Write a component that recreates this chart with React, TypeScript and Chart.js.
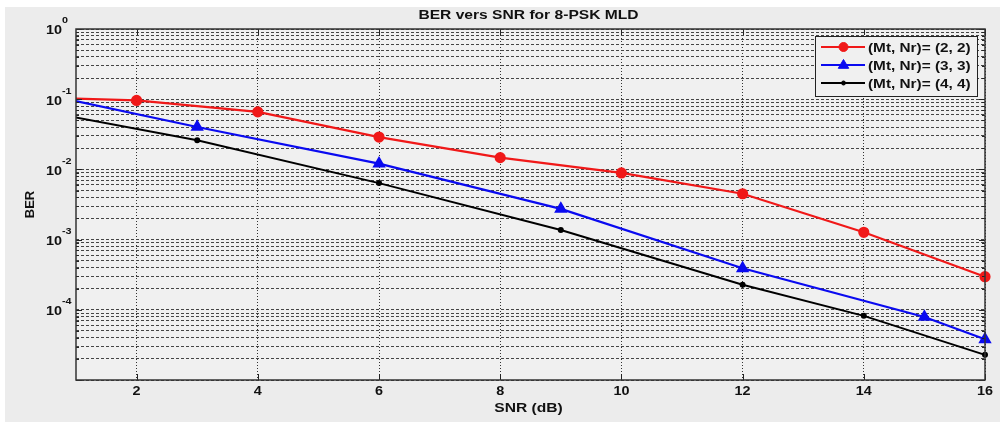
import React, { useEffect, useRef } from "react";
import { Chart, registerables } from "chart.js";

Chart.register(...registerables);

const chartTitle = "BER vers SNR for 8-PSK MLD";
const xAxisLabel = "SNR (dB)";
const yAxisLabel = "BER";
const snrTicks = [2, 4, 6, 8, 10, 12, 14, 16];
const yExponents = [0, -1, -2, -3, -4];

const seriesLabels = ["(Mt, Nr)= (2, 2)", "(Mt, Nr)= (3, 3)", "(Mt, Nr)= (4, 4)"];

const snr22 = [0, 2, 4, 6, 8, 10, 12, 14, 16];
const ber22 = [0.108, 0.096, 0.066, 0.0289, 0.0147, 0.0089, 0.0045, 0.00127, 0.000296];

const snr33 = [0, 3, 6, 9, 12, 15, 16];
const ber33 = [0.144, 0.0402, 0.0121, 0.00274, 0.00039, 0.000079, 0.000038];

const snr44 = [0, 3, 6, 9, 12, 14, 16];
const ber44 = [0.0796, 0.026, 0.00638, 0.00137, 0.000228, 0.000082, 0.0000228];

const FONT = "'Liberation Sans', Arial, sans-serif";
const STRETCH = 1.2;

function pts(xs: number[], ys: number[]) {
  return xs.map((x, i) => ({ x, y: ys[i] }));
}

function yGridValues() {
  const v: number[] = [];
  for (let k = -5; k < 0; k++) {
    for (let m = 1; m < 10; m++) v.push(m * Math.pow(10, k));
  }
  v.push(1);
  return v;
}

function text(ctx: CanvasRenderingContext2D, s: string, x: number, y: number, font: string, align: CanvasTextAlign, sx = STRETCH) {
  ctx.save();
  ctx.translate(x, y);
  ctx.scale(sx, 1);
  ctx.font = font;
  ctx.textAlign = align;
  ctx.textBaseline = "middle";
  ctx.fillText(s, 0, 0);
  ctx.restore();
}

function drawMarker(ctx: CanvasRenderingContext2D, style: string, x: number, y: number, r: number) {
  ctx.beginPath();
  if (style === "triangle") {
    ctx.moveTo(x, y - r);
    ctx.lineTo(x + r * 0.95, y + r * 0.6);
    ctx.lineTo(x - r * 0.95, y + r * 0.6);
    ctx.closePath();
  } else {
    ctx.arc(x, y, r, 0, Math.PI * 2);
  }
  ctx.fill();
  ctx.stroke();
}

const decor = {
  id: "decor",
  beforeDraw(chart: any) {
    const { ctx, chartArea: a } = chart;
    ctx.save();
    ctx.fillStyle = "#ffffff";
    ctx.fillRect(0, 0, chart.width, chart.height);
    ctx.fillStyle = "#ececec";
    ctx.fillRect(5, 7, chart.width - 5, chart.height - 7);
    ctx.fillStyle = "#f0f0f0";
    ctx.fillRect(a.left, a.top, a.right - a.left, a.bottom - a.top);
    ctx.restore();
  },
  afterDraw(chart: any) {
    const { ctx, chartArea: a } = chart;
    const xs = chart.scales.x;
    const ys = chart.scales.y;
    ctx.save();
    // tick marks
    ctx.strokeStyle = "#222";
    ctx.lineWidth = 1;
    ctx.beginPath();
    snrTicks.forEach((v) => {
      const px = Math.round(xs.getPixelForValue(v)) + 0.5;
      ctx.moveTo(px, a.bottom);
      ctx.lineTo(px, a.bottom - 6);
      ctx.moveTo(px, a.top);
      ctx.lineTo(px, a.top + 6);
    });
    yGridValues().forEach((v) => {
      const py = Math.round(ys.getPixelForValue(v)) + 0.5;
      const major = Math.abs(Math.log10(v) - Math.round(Math.log10(v))) < 1e-9;
      const len = major ? 6 : 3;
      ctx.moveTo(a.left, py);
      ctx.lineTo(a.left + len, py);
      ctx.moveTo(a.right, py);
      ctx.lineTo(a.right - len, py);
    });
    ctx.stroke();
    // box
    ctx.strokeStyle = "#333";
    ctx.lineWidth = 1.5;
    ctx.strokeRect(a.left, a.top, a.right - a.left, a.bottom - a.top);

    // tick labels
    ctx.fillStyle = "#111";
    snrTicks.forEach((v) => {
      text(ctx, String(v), xs.getPixelForValue(v), 392, `bold 12px ${FONT}`, "center");
    });
    yExponents.forEach((e) => {
      const py = ys.getPixelForValue(Math.pow(10, e));
      text(ctx, "10", 62, py + 2, `bold 12px ${FONT}`, "right");
      text(ctx, String(e), 62, py - 8, `bold 9px ${FONT}`, "left");
    });

    // title and axis labels
    const cx = (a.left + a.right) / 2;
    text(ctx, chartTitle, cx - 2, 15, `bold 13px ${FONT}`, "center");
    text(ctx, xAxisLabel, cx - 2, 408, `bold 13px ${FONT}`, "center");
    ctx.save();
    ctx.translate(30, (a.top + a.bottom) / 2);
    ctx.rotate(-Math.PI / 2);
    ctx.font = `bold 13px ${FONT}`;
    ctx.textAlign = "center";
    ctx.textBaseline = "middle";
    ctx.fillText(yAxisLabel, 0, 0);
    ctx.restore();

    // legend
    const lx = 815, ly = 36, lw = 162, lh = 60;
    ctx.fillStyle = "#f0f0f0";
    ctx.fillRect(lx, ly, lw, lh);
    ctx.strokeStyle = "#222";
    ctx.lineWidth = 1;
    ctx.strokeRect(lx + 0.5, ly + 0.5, lw, lh);
    chart.data.datasets.forEach((ds: any, i: number) => {
      const cy = 47 + i * 18;
      ctx.strokeStyle = ds.borderColor;
      ctx.lineWidth = ds.borderWidth;
      ctx.beginPath();
      ctx.moveTo(821, cy);
      ctx.lineTo(865, cy);
      ctx.stroke();
      ctx.fillStyle = ds.pointBackgroundColor;
      ctx.strokeStyle = ds.pointBorderColor;
      ctx.lineWidth = 1;
      drawMarker(ctx, ds.pointStyle, 843.5, cy, ds.pointRadius);
      ctx.fillStyle = "#111";
      text(ctx, ds.label, 868, cy + 1, `bold 13px ${FONT}`, "left", 1.18);
    });
    ctx.restore();
  },
};

export default function App() {
  const ref = useRef<HTMLCanvasElement | null>(null);
  useEffect(() => {
    if (!ref.current) return;
    const clip = { left: 0, right: false, top: false, bottom: false } as any;
    const chart = new Chart(ref.current, {
      type: "line",
      data: {
        datasets: [
          {
            label: seriesLabels[0],
            data: pts(snr22, ber22),
            borderColor: "#f01818",
            backgroundColor: "#f01818",
            pointBackgroundColor: "#f01818",
            pointBorderColor: "#f01818",
            borderWidth: 2.2,
            pointRadius: 4.5,
            pointStyle: "circle",
            clip,
          },
          {
            label: seriesLabels[1],
            data: pts(snr33, ber33),
            borderColor: "#0a0af0",
            backgroundColor: "#0a0af0",
            pointBackgroundColor: "#0a0af0",
            pointBorderColor: "#0a0af0",
            borderWidth: 2.2,
            pointRadius: 5.5,
            pointStyle: "triangle",
            clip,
          },
          {
            label: seriesLabels[2],
            data: pts(snr44, ber44),
            borderColor: "#000000",
            backgroundColor: "#000000",
            pointBackgroundColor: "#000000",
            pointBorderColor: "#000000",
            borderWidth: 2,
            pointRadius: 2,
            pointStyle: "circle",
            clip,
          },
        ] as any,
      },
      options: {
        responsive: false,
        animation: false,
        layout: { padding: { left: 76, right: 15, top: 29, bottom: 42 } },
        plugins: { legend: { display: false }, tooltip: { enabled: false } },
        elements: { line: { tension: 0 } },
        scales: {
          x: {
            type: "linear",
            min: 1,
            max: 16,
            afterBuildTicks: (s: any) => {
              s.ticks = snrTicks.map((v) => ({ value: v }));
            },
            ticks: { display: false },
            grid: { color: "#333", lineWidth: 1, drawTicks: false },
            border: { display: false, dash: [1, 2] },
          },
          y: {
            type: "logarithmic",
            min: 1e-5,
            max: 1,
            afterBuildTicks: (s: any) => {
              s.ticks = yGridValues().map((v) => ({ value: v }));
            },
            ticks: { display: false },
            grid: { color: "#444", lineWidth: 1, drawTicks: false },
            border: { display: false, dash: [3, 2] },
          },
        },
      } as any,
      plugins: [decor],
    });
    return () => chart.destroy();
  }, []);
  return (
    <div style={{ position: "absolute", left: 0, top: 0, width: 1000, height: 422 }}>
      <canvas ref={ref} width={1000} height={422} style={{ width: 1000, height: 422, display: "block" }} />
    </div>
  );
}
